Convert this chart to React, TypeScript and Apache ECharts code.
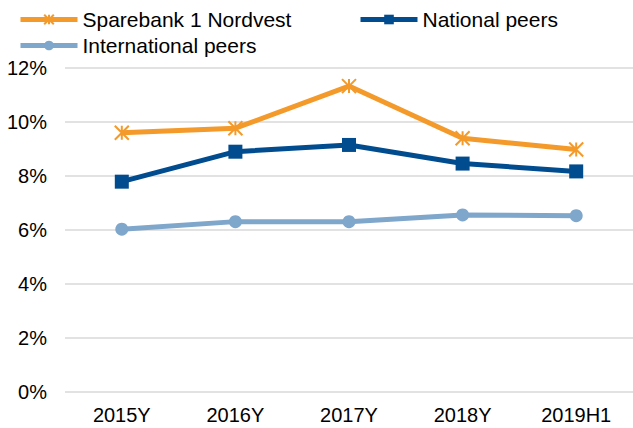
import React, { useEffect, useRef } from "react";
import * as echarts from "echarts";

const categories = ["2015Y", "2016Y", "2017Y", "2018Y", "2019H1"];
const sparebank = [9.6, 9.77, 11.33, 9.4, 8.98];
const nationalPeers = [7.79, 8.9, 9.15, 8.46, 8.17];
const internationalPeers = [6.03, 6.31, 6.31, 6.56, 6.53];

const ORANGE = "#F39A2B";
const NAVY = "#004C8F";
const LIGHT = "#7FA6CB";
const FONT = "Liberation Sans, Arial, sans-serif";

const ASTERISK = "path://M0,0L10,10M10,0L0,10M5,0L5,10";

export default function App() {
  const ref = useRef<HTMLDivElement>(null);
  useEffect(() => {
    if (!ref.current) return;
    const chart = echarts.init(ref.current, undefined, { renderer: "svg" });
    const legendBase = {
      itemWidth: 57,
      itemHeight: 12,
      itemGap: 0,
      padding: 0,
      lineStyle: { width: 5 },
      textStyle: { fontFamily: FONT, fontSize: 21, color: "#000" },
      selectedMode: false,
    };
    chart.setOption({
      animation: false,
      backgroundColor: "#fff",
      legend: [
        { ...legendBase, left: 18, top: 9, data: ["Sparebank 1 Nordvest"] },
        { ...legendBase, left: 358, top: 9, data: ["National peers"] },
        { ...legendBase, left: 18, top: 35, data: ["International peers"] },
      ],
      grid: { left: 65, right: 0, top: 68, bottom: 36, containLabel: false },
      xAxis: {
        type: "category",
        data: categories,
        boundaryGap: true,
        axisLine: { show: false },
        axisTick: { show: false },
        axisLabel: { fontFamily: FONT, fontSize: 20, color: "#000", margin: 13 },
      },
      yAxis: {
        type: "value",
        min: 0,
        max: 12,
        interval: 2,
        axisLine: { show: false },
        axisTick: { show: false },
        axisLabel: {
          fontFamily: FONT,
          fontSize: 20,
          color: "#000",
          margin: 18,
          formatter: "{value}%",
        },
        splitLine: { lineStyle: { color: "#D9D9D9", width: 1.5 } },
      },
      series: [
        {
          name: "Sparebank 1 Nordvest",
          type: "line",
          data: sparebank,
          symbol: ASTERISK,
          symbolSize: 14,
          z: 4,
          lineStyle: { color: ORANGE, width: 5 },
          itemStyle: { color: ORANGE, borderColor: ORANGE, borderWidth: 2 },
        },
        {
          name: "National peers",
          type: "line",
          data: nationalPeers,
          symbol: "rect",
          symbolSize: 14,
          z: 3,
          lineStyle: { color: NAVY, width: 5 },
          itemStyle: { color: NAVY },
        },
        {
          name: "International peers",
          type: "line",
          data: internationalPeers,
          symbol: "circle",
          symbolSize: 13,
          z: 2,
          lineStyle: { color: LIGHT, width: 5 },
          itemStyle: { color: LIGHT },
        },
      ],
    });
    return () => chart.dispose();
  }, []);
  return (
    <div
      ref={ref}
      style={{ position: "fixed", left: 0, top: 0, width: 633, height: 428 }}
    />
  );
}
